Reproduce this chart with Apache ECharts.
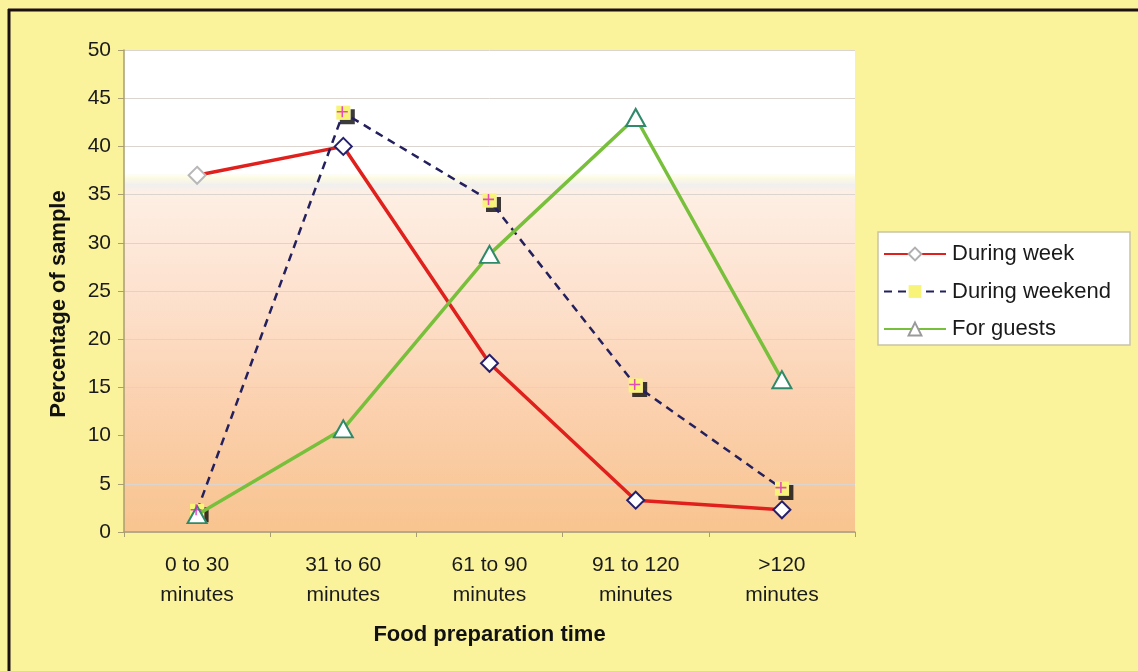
<!DOCTYPE html>
<html>
<head>
<meta charset="utf-8">
<script src="https://cdn.jsdelivr.net/npm/echarts@6/dist/echarts.min.js"></script>
<style>
html,body{margin:0;padding:0;background:#FBF39C;}
#c{width:1138px;height:671px;}
</style>
</head>
<body>
<div id="c"></div>
<script>
const categories = ['0 to 30\nminutes', '31 to 60\nminutes', '61 to 90\nminutes', '91 to 120\nminutes', '>120\nminutes'];
const duringWeek = [37, 40, 17.5, 3.3, 2.3];
const duringWeekend = [2.2, 43.5, 34.4, 15.2, 4.5];
const forGuests = [1.8, 10.7, 28.8, 43, 15.8];
const yTicks = [0, 5, 10, 15, 20, 25, 30, 35, 40, 45, 50];

const chart = echarts.init(document.getElementById('c'));
const font = 'Liberation Sans, Arial, sans-serif';
const Lshape = 'path://M7.5,0 L10.5,0 L10.5,10.5 L0,10.5 L0,7.5 L7.5,7.5 Z';
const plusShape = 'path://M4.3,0 L5.7,0 L5.7,4.3 L10,4.3 L10,5.7 L5.7,5.7 L5.7,10 L4.3,10 L4.3,5.7 L0,5.7 L0,4.3 L4.3,4.3 Z';

const weekData = duringWeek.map((v, i) => i === 0
  ? {value: v, itemStyle: {borderColor: '#b8b8b8', color: '#ffffff'}}
  : v);

chart.setOption({
  backgroundColor: '#FBF39C',
  textStyle: {fontFamily: font},
  graphic: [
    {type: 'line', shape: {x1: 8, y1: 10, x2: 1138, y2: 10}, style: {stroke: '#1a1010', lineWidth: 3}, z: 100},
    {type: 'line', shape: {x1: 9, y1: 9, x2: 9, y2: 671}, style: {stroke: '#1a1010', lineWidth: 3}, z: 100}
  ],
  grid: {
    left: 124, right: 283, top: 50, bottom: 139,
    show: true, borderWidth: 0,
    backgroundColor: new echarts.graphic.LinearGradient(0, 0, 0, 1, [
      {offset: 0, color: '#ffffff'},
      {offset: 0.255, color: '#ffffff'},
      {offset: 0.265, color: '#fdfbe2'},
      {offset: 0.28, color: '#f1efef'},
      {offset: 0.295, color: '#fdefe4'},
      {offset: 0.5, color: '#fde2cf'},
      {offset: 0.75, color: '#fbd0ad'},
      {offset: 1, color: '#f8c48f'}
    ])
  },
  legend: {
    orient: 'vertical',
    left: 878, top: 232,
    padding: [11, 19, 5, 5],
    itemWidth: 62, itemHeight: 16, itemGap: 15.5,
    backgroundColor: '#ffffff',
    borderColor: '#c9c3a6', borderWidth: 1.5,
    textStyle: {fontSize: 22, color: '#1a1a1a', fontFamily: font, padding: [0, 0, 0, 1]},
    data: [
      {name: 'During week', itemStyle: {borderColor: '#b0b0b0'}},
      'During weekend',
      {name: 'For guests', itemStyle: {borderColor: '#9a9a9a'}}
    ]
  },
  xAxis: {
    type: 'category',
    data: categories,
    boundaryGap: true,
    name: 'Food preparation time',
    nameLocation: 'middle',
    nameGap: 92,
    nameTextStyle: {fontSize: 22, fontWeight: 'bold', color: '#111', fontFamily: font},
    axisLine: {lineStyle: {color: '#a89e70', width: 1.5}},
    axisTick: {show: true, length: 5, lineStyle: {color: '#a89e70'}},
    axisLabel: {fontSize: 21, color: '#1a1a1a', lineHeight: 30, margin: 18, fontFamily: font},
    z: 10
  },
  yAxis: {
    type: 'value',
    min: 0, max: 50, interval: 5,
    name: 'Percentage of sample',
    nameLocation: 'middle',
    nameGap: 54,
    nameTextStyle: {fontSize: 22, fontWeight: 'bold', color: '#111', fontFamily: font, padding: [0, 26, 0, 0]},
    axisLine: {show: true, lineStyle: {color: '#a89e70', width: 1.5}},
    axisTick: {show: true, length: 6, lineStyle: {color: '#a89e70'}},
    axisLabel: {fontSize: 21, color: '#1a1a1a', margin: 13, fontFamily: font,
      formatter: v => yTicks.includes(v) ? String(v) : ''},
    splitLine: {show: true, lineStyle: {color: '#dcd5cf', width: 1}}
  },
  series: [
    {
      name: 'During week', type: 'line', data: weekData,
      symbol: 'diamond', symbolSize: [17, 17],
      lineStyle: {color: '#e0201c', width: 3.5},
      itemStyle: {color: '#ffffff', borderColor: '#25206e', borderWidth: 2},
      z: 3
    },
    {
      name: 'During weekend', type: 'line', data: duringWeekend,
      symbol: 'rect', symbolSize: 14,
      lineStyle: {color: '#24205e', width: 2.5, type: [8, 6]},
      itemStyle: {color: '#f8f47a', borderWidth: 0},
      z: 4
    },
    {
      name: 'During weekend', type: 'scatter', data: duringWeekend,
      symbol: Lshape, symbolSize: 15, symbolOffset: [4, 4],
      itemStyle: {color: '#0a0a0a'}, silent: true, z: 3
    },
    {
      name: 'During weekend', type: 'scatter', data: duringWeekend,
      symbol: plusShape, symbolSize: 11, symbolOffset: [-1, -1],
      itemStyle: {color: '#e020c8'}, silent: true, z: 6
    },
    {
      name: 'For guests', type: 'line', data: forGuests,
      symbol: 'triangle', symbolSize: [19, 17],
      lineStyle: {color: '#78c03c', width: 3.5},
      itemStyle: {color: '#ffffff', borderColor: '#2f8a6a', borderWidth: 2},
      z: 5
    }
  ]
});
</script>
</body>
</html>
